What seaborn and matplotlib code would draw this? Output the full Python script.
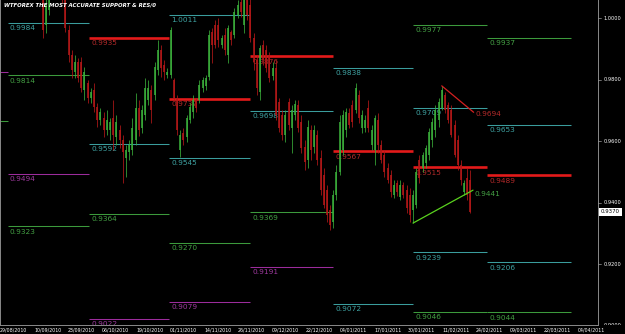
import numpy as np
import pandas as pd
import matplotlib
matplotlib.use("Agg")
import matplotlib.pyplot as plt
import seaborn as sns

# ---------------- data ----------------
opens = [1.0059, 0.9978, 1.0026, 1.0140, 1.0098, 1.0150, 1.0108, 1.0059, 0.9961, 0.9880,
         0.9825, 0.9858, 0.9858, 0.9766, 0.9789, 0.9741, 0.9766, 0.9711, 0.9669, 0.9676,
         0.9636, 0.9636, 0.9676, 0.9614, 0.9636, 0.9604, 0.9546, 0.9565, 0.9571, 0.9604,
         0.9708, 0.9643, 0.9685, 0.9734, 0.9766, 0.9750, 0.9831, 0.9896, 0.9848, 0.9815,
         0.9815, 0.9799, 0.9741, 0.9571, 0.9627, 0.9614, 0.9669, 0.9695, 0.9734, 0.9734,
         0.9773, 0.9780, 0.9809, 0.9955, 0.9978, 0.9978, 0.9913, 0.9945, 0.9880, 0.9955,
         0.9945, 1.0010, 1.0053, 0.9978, 1.0075, 1.0043, 0.9936, 0.9864, 0.9760, 0.9913,
         0.9896, 0.9880, 0.9812, 0.9838, 0.9727, 0.9685, 0.9620, 0.9727, 0.9643, 0.9685,
         0.9718, 0.9663, 0.9581, 0.9539, 0.9636, 0.9581, 0.9620, 0.9546, 0.9490, 0.9441,
         0.9376, 0.9338, 0.9425, 0.9500, 0.9571, 0.9636, 0.9692, 0.9718, 0.9701, 0.9750,
         0.9643, 0.9643, 0.9708, 0.9588, 0.9571, 0.9669, 0.9588, 0.9555, 0.9513, 0.9490,
         0.9425, 0.9464, 0.9419, 0.9458, 0.9441, 0.9425, 0.9376, 0.9393, 0.9539, 0.9513,
         0.9529, 0.9555, 0.9604, 0.9636, 0.9669, 0.9708, 0.9750, 0.9718, 0.9701, 0.9653,
         0.9604, 0.9523, 0.9435, 0.9481, 0.9474]
highs = [1.0075, 1.0075, 1.0092, 1.0157, 1.0173, 1.0163, 1.0124, 1.0092, 0.9978, 0.9896,
         0.9880, 0.9871, 0.9874, 0.9841, 0.9799, 0.9773, 0.9789, 0.9724, 0.9708, 0.9695,
         0.9701, 0.9676, 0.9734, 0.9685, 0.9653, 0.9620, 0.9588, 0.9604, 0.9676, 0.9757,
         0.9734, 0.9718, 0.9806, 0.9799, 0.9783, 0.9858, 0.9929, 0.9913, 0.9864, 0.9838,
         0.9971, 0.9806, 0.9750, 0.9636, 0.9643, 0.9685, 0.9724, 0.9750, 0.9741, 0.9799,
         0.9809, 0.9815, 0.9961, 0.9968, 0.9994, 1.0001, 0.9945, 0.9968, 0.9978, 0.9961,
         1.0033, 1.0059, 1.0075, 1.0085, 1.0092, 1.0066, 0.9952, 0.9880, 0.9913, 0.9929,
         0.9913, 0.9890, 0.9858, 0.9864, 0.9741, 0.9701, 0.9701, 0.9741, 0.9718, 0.9734,
         0.9734, 0.9685, 0.9604, 0.9669, 0.9653, 0.9653, 0.9636, 0.9571, 0.9513, 0.9458,
         0.9393, 0.9441, 0.9523, 0.9685, 0.9701, 0.9708, 0.9708, 0.9734, 0.9789, 0.9766,
         0.9701, 0.9685, 0.9734, 0.9653, 0.9685, 0.9692, 0.9604, 0.9571, 0.9529, 0.9506,
         0.9474, 0.9474, 0.9474, 0.9468, 0.9458, 0.9448, 0.9441, 0.9513, 0.9555, 0.9565,
         0.9588, 0.9643, 0.9676, 0.9718, 0.9741, 0.9780, 0.9760, 0.9727, 0.9718, 0.9669,
         0.9620, 0.9539, 0.9474, 0.9513, 0.9506]
lows = [0.9936, 0.9952, 1.0010, 1.0066, 1.0085, 1.0075, 1.0049, 0.9955, 0.9858, 0.9806,
        0.9806, 0.9793, 0.9760, 0.9734, 0.9724, 0.9724, 0.9695, 0.9646, 0.9653, 0.9614,
        0.9620, 0.9604, 0.9571, 0.9588, 0.9578, 0.9464, 0.9484, 0.9539, 0.9555, 0.9588,
        0.9617, 0.9627, 0.9669, 0.9718, 0.9659, 0.9734, 0.9815, 0.9809, 0.9799, 0.9806,
        0.9806, 0.9734, 0.9620, 0.9549, 0.9588, 0.9598, 0.9659, 0.9676, 0.9695, 0.9724,
        0.9760, 0.9766, 0.9799, 0.9854, 0.9903, 0.9906, 0.9903, 0.9880, 0.9854, 0.9913,
        0.9936, 1.0001, 1.0004, 0.9952, 0.9994, 0.9923, 0.9831, 0.9750, 0.9734, 0.9848,
        0.9825, 0.9793, 0.9799, 0.9669, 0.9630, 0.9604, 0.9598, 0.9636, 0.9562, 0.9669,
        0.9630, 0.9562, 0.9506, 0.9513, 0.9539, 0.9562, 0.9523, 0.9425, 0.9383, 0.9338,
        0.9311, 0.9318, 0.9409, 0.9490, 0.9555, 0.9614, 0.9643, 0.9646, 0.9692, 0.9659,
        0.9627, 0.9630, 0.9630, 0.9571, 0.9523, 0.9562, 0.9529, 0.9484, 0.9464, 0.9419,
        0.9416, 0.9422, 0.9409, 0.9416, 0.9367, 0.9338, 0.9334, 0.9383, 0.9464, 0.9500,
        0.9513, 0.9539, 0.9581, 0.9614, 0.9646, 0.9701, 0.9692, 0.9659, 0.9614, 0.9549,
        0.9506, 0.9458, 0.9425, 0.9409, 0.9367]
closes = [0.9961, 1.0043, 1.0075, 1.0085, 1.0157, 1.0108, 1.0069, 0.9968, 0.9880, 0.9831,
          0.9858, 0.9806, 0.9773, 0.9825, 0.9741, 0.9760, 0.9711, 0.9669, 0.9695, 0.9636,
          0.9669, 0.9663, 0.9620, 0.9663, 0.9604, 0.9565, 0.9571, 0.9588, 0.9643, 0.9708,
          0.9636, 0.9701, 0.9773, 0.9773, 0.9701, 0.9841, 0.9896, 0.9838, 0.9825, 0.9825,
          0.9961, 0.9741, 0.9636, 0.9620, 0.9604, 0.9676, 0.9711, 0.9734, 0.9708, 0.9783,
          0.9799, 0.9806, 0.9945, 0.9913, 0.9913, 0.9929, 0.9936, 0.9896, 0.9968, 0.9929,
          1.0020, 1.0043, 1.0020, 1.0069, 1.0010, 0.9936, 0.9858, 0.9773, 0.9903, 0.9864,
          0.9838, 0.9806, 0.9838, 0.9685, 0.9643, 0.9620, 0.9685, 0.9653, 0.9701, 0.9721,
          0.9643, 0.9578, 0.9532, 0.9646, 0.9571, 0.9636, 0.9539, 0.9441, 0.9393, 0.9360,
          0.9328, 0.9425, 0.9500, 0.9663, 0.9685, 0.9695, 0.9653, 0.9663, 0.9773, 0.9676,
          0.9685, 0.9669, 0.9643, 0.9636, 0.9676, 0.9588, 0.9539, 0.9500, 0.9474, 0.9435,
          0.9458, 0.9435, 0.9458, 0.9425, 0.9383, 0.9360, 0.9425, 0.9500, 0.9481, 0.9555,
          0.9578, 0.9630, 0.9663, 0.9701, 0.9727, 0.9766, 0.9701, 0.9669, 0.9620, 0.9555,
          0.9523, 0.9474, 0.9464, 0.9425, 0.9370]

# monthly pivot periods (bar index where each month's levels start / end)
months = ["Aug", "Sep", "Oct", "Nov", "Dec", "Jan", "Feb", "Mar"]
month_start = [-20.0, -11.0, 14.4, 39.5, 65.0, 91.0, 116.0, 139.2]
month_end = [-11.0, 14.4, 39.5, 65.0, 91.0, 116.0, 139.2, 165.5]

level_month = ["Aug", "Aug",
               "Sep", "Sep", "Sep", "Sep",
               "Oct", "Oct", "Oct", "Oct",
               "Nov", "Nov", "Nov", "Nov", "Nov",
               "Dec", "Dec", "Dec", "Dec",
               "Jan", "Jan", "Jan",
               "Feb", "Feb", "Feb", "Feb", "Feb",
               "Mar", "Mar", "Mar", "Mar", "Mar"]
level_value = [0.9825, 0.9666,
               0.9984, 0.9814, 0.9494, 0.9323,
               0.9935, 0.9592, 0.9364, 0.9022,
               1.0011, 0.9737, 0.9545, 0.9270, 0.9079,
               0.9876, 0.9698, 0.9369, 0.9191,
               0.9838, 0.9567, 0.9072,
               0.9977, 0.9709, 0.9515, 0.9239, 0.9046,
               0.9937, 0.9653, 0.9489, 0.9206, 0.9044]
level_kind = ["P", "G",
              "T", "G", "P", "G",
              "R", "T", "G", "P",
              "T", "R", "T", "G", "P",
              "R", "T", "G", "P",
              "T", "R", "T",
              "G", "T", "R", "T", "G",
              "G", "T", "R", "T", "G"]

# trend lines (bar index, price)
up_trend_x = [116.0, 134.8]
up_trend_y = [0.9334, 0.9441]
down_trend_x = [125.0, 135.0]
down_trend_y = [0.9780, 0.9694]

date_labels = ["29/08/2010", "10/09/2010", "23/09/2010", "06/10/2010", "19/10/2010",
               "01/11/2010", "14/11/2010", "26/11/2010", "09/12/2010", "22/12/2010",
               "04/01/2011", "17/01/2011", "30/01/2011", "11/02/2011", "24/02/2011",
               "09/03/2011", "22/03/2011", "04/04/2011"]
price_ticks = [0.90, 0.92, 0.94, 0.96, 0.98, 1.00]
last_price = 0.9370
title = "WTFOREX THE MOST ACCURATE SUPPORT & RES/0"

# ---------------- styling ----------------
sns.set_theme(style="dark", rc={"axes.facecolor": "black", "figure.facecolor": "black",
                                "axes.grid": False})
plt.rcParams["font.family"] = ["DejaVu Sans"]

W, H = 625, 334
fig = plt.figure(figsize=(W / 100, H / 100), dpi=100, facecolor="black")
ax = fig.add_axes([0, 9 / H, 598 / W, 325 / H])
ax.set_facecolor("black")

px_per_bar = 3.19
x0_px = 43.0
xlim = (-x0_px / px_per_bar, (598 - x0_px) / px_per_bar)
ylim = (0.90027, 1.0059)
ax.set_xlim(*xlim)
ax.set_ylim(*ylim)

GREEN_C = "#3aae3a"
RED_C = "#b41818"
kind_line = {"R": "#e31a1a", "T": "#3a9d9d", "G": "#3c9a3c", "P": "#9c2c9c"}
kind_text = {"R": "#b32a2a", "T": "#3fa3a3", "G": "#44a044", "P": "#a03aa0"}
kind_lw = {"R": 1.9, "T": 0.75, "G": 0.75, "P": 0.75}

# ---------------- pivot levels ----------------
mstart = dict(zip(months, month_start))
mend = dict(zip(months, month_end))
lev = pd.DataFrame({"month": level_month, "value": level_value, "kind": level_kind})
for _, r in lev.iterrows():
    xs, xe = mstart[r["month"]], mend[r["month"]]
    ax.hlines(r["value"], xs, xe, colors=kind_line[r["kind"]], lw=kind_lw[r["kind"]], zorder=2)
    if xs >= xlim[0]:
        ax.annotate(f"{r['value']:.4f}", (xs, r["value"]), xytext=(1.5, -1.6),
                    textcoords="offset points", va="top", ha="left", fontsize=5.3,
                    color=kind_text[r["kind"]], zorder=2)

# ---------------- candles ----------------
df = pd.DataFrame({"open": opens, "high": highs, "low": lows, "close": closes})
df["bar"] = np.arange(len(df))
df["up"] = df["close"] >= df["open"]
cols = np.where(df["up"], GREEN_C, RED_C)
ax.vlines(df["bar"], df["low"], df["high"], colors=cols, lw=0.55, zorder=3)
ax.vlines(df["bar"], np.minimum(df["open"], df["close"]), np.maximum(df["open"], df["close"]),
          colors=cols, lw=1.15, zorder=3)

# ---------------- trend lines ----------------
tl = pd.DataFrame({"x": up_trend_x + down_trend_x, "y": up_trend_y + down_trend_y,
                   "line": ["up", "up", "down", "down"]})
sns.lineplot(data=tl, x="x", y="y", hue="line", palette={"up": "#5ad21e", "down": "#d42020"},
             lw=0.9, legend=False, ax=ax, zorder=4, estimator=None, sort=False)
ax.annotate(f"{up_trend_y[-1]:.4f}", (up_trend_x[-1], up_trend_y[-1]), xytext=(1.2, -0.6),
            textcoords="offset points", va="top", ha="left", fontsize=5.3, color="#44a044")
ax.annotate(f"{down_trend_y[-1]:.4f}", (down_trend_x[-1], down_trend_y[-1]), xytext=(1.0, 0.6),
            textcoords="offset points", va="top", ha="left", fontsize=5.3, color="#b32a2a")

ax.set_xlabel("")
ax.set_ylabel("")

# ---------------- axes frame ----------------
ax.spines["top"].set_visible(False)
for s in ["bottom", "right", "left"]:
    ax.spines[s].set_visible(True)
    ax.spines[s].set_color("#8a8a8a")
    ax.spines[s].set_linewidth(0.7)
ax.set_yticks([])
tick_pos = [xlim[0] + k * (34.0 / px_per_bar) for k in range(len(date_labels))]
ax.set_xticks(tick_pos)
ax.set_xticklabels(date_labels)
ax.tick_params(axis="x", colors="#9a9a9a", length=1.5, width=0.5, labelsize=3.45,
               pad=0.5, labelcolor="white", direction="out")
for lbl in ax.get_xticklabels():
    lbl.set_ha("left")

# title
fig.text(4 / W, 1 - 2.5 / H, title, color="white", fontsize=3.9, fontweight="bold",
         fontstyle="italic", va="top", ha="left")

# ---------------- price scale (right) ----------------
ax2 = fig.add_axes([598 / W, 9 / H, 27 / W, 325 / H])
ax2.set_facecolor("black")
ax2.set_xlim(0, 1)
ax2.set_ylim(*ylim)
ax2.axis("off")
for v in price_ticks:
    ax2.plot([0, 0.12], [v, v], color="#9a9a9a", lw=0.5, clip_on=True)
    ax2.text(0.22, v, f"{v:.4f}", color="white", fontsize=3.6, va="center", ha="left",
             clip_on=True)
ax2.text(0.1, last_price, f"{last_price:.4f}", color="black", fontsize=3.9, va="center",
         ha="left", bbox=dict(boxstyle="square,pad=0.35", fc="white", ec="white", lw=0))

fig.savefig("out.png", dpi=100, facecolor="black")
